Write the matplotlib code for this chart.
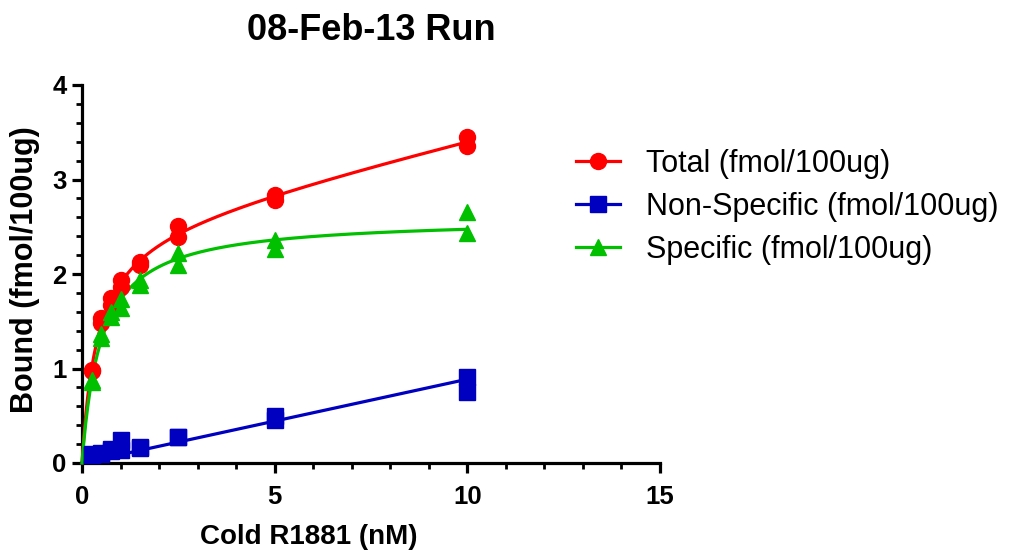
import numpy as np
import matplotlib
matplotlib.use('Agg')
import matplotlib.pyplot as plt
from matplotlib.lines import Line2D

# Data (two replicates per concentration)
conc_nM = [0.25, 0.5, 0.75, 1.0, 1.5, 2.5, 5.0, 10.0]
total_rep1 = [0.97, 1.53, 1.75, 1.94, 2.13, 2.51, 2.84, 3.45]
total_rep2 = [0.98, 1.48, 1.67, 1.86, 2.10, 2.39, 2.78, 3.35]
nonspec_rep1 = [0.09, 0.10, 0.15, 0.24, 0.16, 0.27, 0.50, 0.91]
nonspec_rep2 = [0.08, 0.11, 0.13, 0.14, 0.17, 0.28, 0.46, 0.75]
spec_rep1 = [0.88, 1.37, 1.60, 1.74, 1.94, 2.22, 2.36, 2.66]
spec_rep2 = [0.86, 1.32, 1.55, 1.64, 1.88, 2.10, 2.26, 2.43]

labels = ['Total (fmol/100ug)', 'Non-Specific (fmol/100ug)', 'Specific (fmol/100ug)']
colors = ['#FF0000', '#0000C0', '#00C000']
markers = ['o', 's', '^']

font = ['Liberation Sans', 'DejaVu Sans']

x = np.array(conc_nM * 2)
y_tot = np.array(total_rep1 + total_rep2)
y_ns = np.array(nonspec_rep1 + nonspec_rep2)
y_sp = np.array(spec_rep1 + spec_rep2)

# Fit: non-specific is linear through origin
ns_slope = np.sum(x * y_ns) / np.sum(x * x)

# Fit: specific one-site hyperbola (grid over Kd, linear Bmax)
best = None
for kd in np.linspace(0.01, 5, 3000):
    g = x / (kd + x)
    bmax = np.sum(g * y_sp) / np.sum(g * g)
    sse = np.sum((y_sp - bmax * g) ** 2)
    if best is None or sse < best[0]:
        best = (sse, kd, bmax)
sp_kd, sp_bmax = best[1], best[2]

# Fit: total = hyperbola + linear
best = None
for kd in np.linspace(0.01, 5, 3000):
    A = np.column_stack([x / (kd + x), x])
    coef, *_ = np.linalg.lstsq(A, y_tot, rcond=None)
    sse = np.sum((y_tot - A @ coef) ** 2)
    if best is None or sse < best[0]:
        best = (sse, kd, coef)
tot_kd, tot_coef = best[1], best[2]

xf = np.linspace(0, 10, 400)
fit_tot = tot_coef[0] * xf / (tot_kd + xf) + tot_coef[1] * xf
fit_ns = ns_slope * xf
fit_sp = sp_bmax * xf / (sp_kd + xf)

fig = plt.figure(figsize=(10.17, 5.58), dpi=100)
ax = fig.add_axes([82 / 1017, 1 - 463 / 558, 578 / 1017, 378 / 558])

series = [(y_tot, fit_tot), (y_ns, fit_ns), (y_sp, fit_sp)]
for (yy, fit), c, m in zip(series, colors, markers):
    ax.plot(xf, fit, color=c, lw=2.3, zorder=3, clip_on=False)
    ax.plot(x, yy, ls='none', marker=m, color=c, ms=11.5, zorder=4, clip_on=False)

ax.set_xlim(0, 15)
ax.set_ylim(0, 4)
ax.set_xticks([0, 5, 10, 15])
ax.set_xticks(np.arange(0, 16, 1), minor=True)
ax.set_yticks([0, 1, 2, 3, 4])
ax.set_yticks(np.arange(0, 4.01, 0.2), minor=True)

for side in ['top', 'right']:
    ax.spines[side].set_visible(False)
for side in ['left', 'bottom']:
    ax.spines[side].set_linewidth(2.3)

ax.tick_params(which='major', direction='out', length=7, width=2.3)
ax.tick_params(which='minor', direction='out', length=4, width=2.0)
ax.tick_params(axis='x', which='major', pad=9)
ax.tick_params(axis='y', which='major', pad=4)
for lab in ax.get_xticklabels() + ax.get_yticklabels():
    lab.set_fontfamily(font)
    lab.set_fontweight('bold')
    lab.set_fontsize(18.5)

fig.text(309 / 1017, 1 - 537 / 558, 'Cold R1881 (nM)', ha='center', va='center',
         fontsize=20, fontweight='bold', family=font)
fig.text(25 / 1017, 1 - 270 / 558, 'Bound (fmol/100ug)', ha='center', va='center',
         rotation=90, fontsize=22, fontweight='bold', family=font)
fig.text(371 / 1017, 1 - 30 / 558, '08-Feb-13 Run', ha='center', va='center',
         fontsize=26, fontweight='bold', family=font)

handles = [Line2D([], [], color=c, marker=m, lw=2.3, ms=11.5) for c, m in zip(colors, markers)]
fig.legend(handles, labels, loc='upper left', bbox_to_anchor=(576 / 1017, 1 - 149 / 558),
           frameon=False, borderpad=0, borderaxespad=0, handlelength=1.45, handletextpad=0.85,
           labelspacing=0.42, prop={'family': font, 'size': 22})

fig.savefig('out.png', dpi=100)
